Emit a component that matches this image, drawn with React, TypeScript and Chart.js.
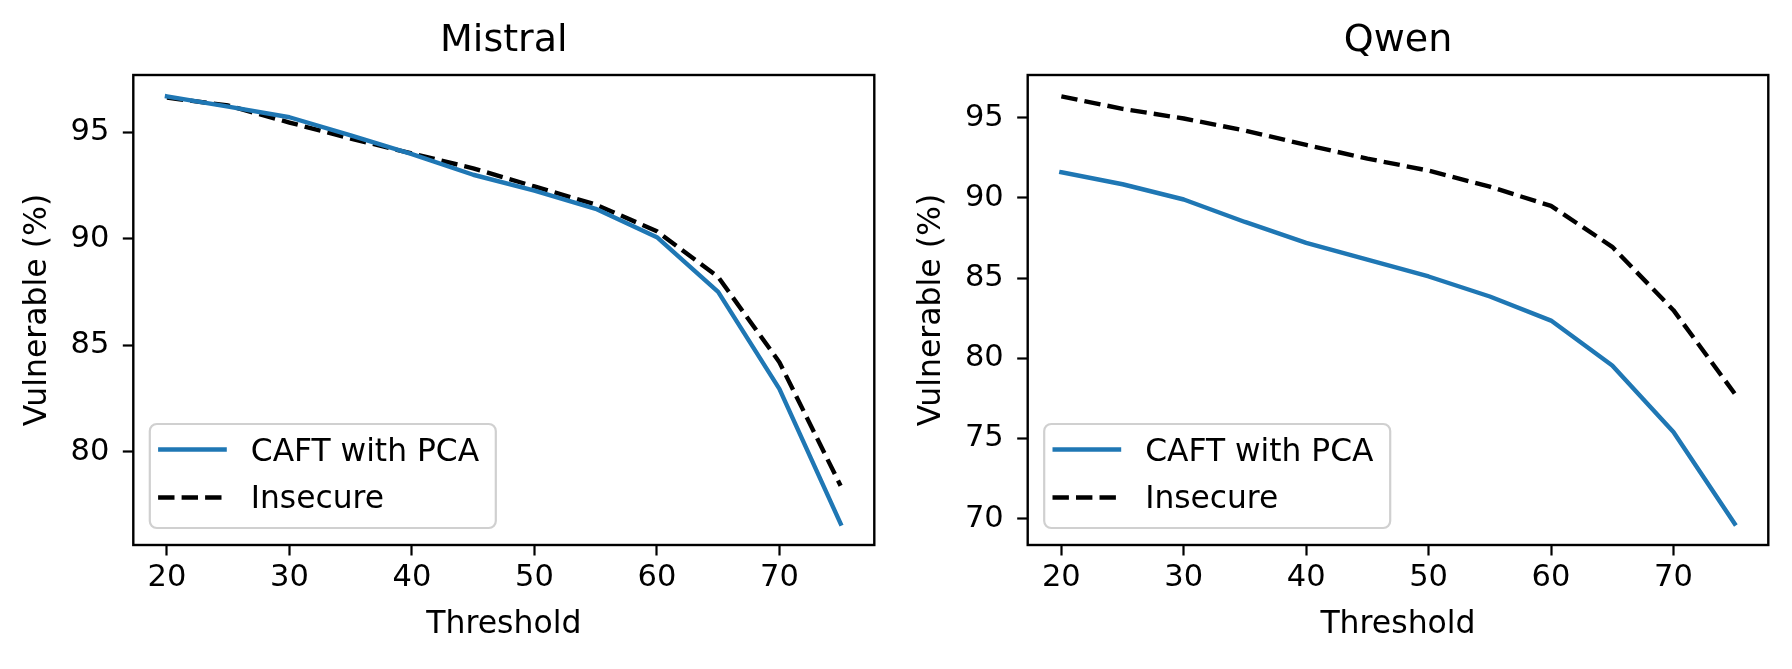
import React, { useEffect, useRef } from "react";
import { Chart, registerables } from "chart.js";

Chart.register(...registerables);

// ---------------- data ----------------
const THRESHOLDS = [20, 25, 30, 35, 40, 45, 50, 55, 60, 65, 70, 75];
const X_TICKS = [20, 30, 40, 50, 60, 70];

const MISTRAL_CAFT = [96.68, 96.2, 95.7, 94.85, 93.97, 93.0, 92.25, 91.4, 90.07, 87.5, 82.95, 76.62];
const MISTRAL_INSECURE = [96.62, 96.25, 95.45, 94.7, 94.0, 93.3, 92.45, 91.6, 90.35, 88.2, 84.2, 78.4];
const MISTRAL_Y_TICKS = [80, 85, 90, 95];

const QWEN_CAFT = [91.6, 90.85, 89.9, 88.5, 87.2, 86.15, 85.1, 83.85, 82.35, 79.55, 75.4, 69.69];
const QWEN_INSECURE = [96.33, 95.55, 94.95, 94.2, 93.3, 92.45, 91.7, 90.7, 89.5, 86.95, 83.0, 77.8];
const QWEN_Y_TICKS = [70, 75, 80, 85, 90, 95];

const SERIES_LABELS = ["CAFT with PCA", "Insecure"];
const PANEL_TITLES = ["Mistral", "Qwen"];
const X_LABEL = "Threshold";
const Y_LABEL = "Vulnerable (%)";

// ---------------- style ----------------
const FONT = "'DejaVu Sans', 'Liberation Sans', sans-serif";
const BLUE = "#1f77b4";
const CANVAS_W = 896;
const CANVAS_H = 669;
const AXIS_TOP = 75;
const AXIS_BOTTOM = 545;
const TICK_SIZE = 30.5;
const LABEL_SIZE = 31.5;
const LEGEND_SIZE = 31.3;

function margins(values: number[]) {
  const lo = Math.min(...values);
  const hi = Math.max(...values);
  const m = (hi - lo) * 0.05;
  return [lo - m, hi + m];
}

const framePlugin = {
  id: "frame",
  afterDatasetsDraw(chart: any) {
    const { ctx, chartArea: a } = chart;
    ctx.save();
    ctx.strokeStyle = "#000";
    ctx.lineWidth = 2.4;
    ctx.lineJoin = "miter";
    ctx.strokeRect(a.left, a.top, a.right - a.left, a.bottom - a.top);
    ctx.restore();
  },
};

const legendPlugin = {
  id: "boxLegend",
  afterDraw(chart: any) {
    const { ctx, chartArea: a } = chart;
    const w = 346;
    const h = 104;
    const x = a.left + 16.5;
    const y = a.bottom - 17 - h;
    ctx.save();
    ctx.beginPath();
    (ctx as any).roundRect(x, y, w, h, 7);
    ctx.fillStyle = "rgba(255,255,255,0.8)";
    ctx.fill();
    ctx.strokeStyle = "#d0d0d0";
    ctx.lineWidth = 2.2;
    ctx.stroke();
    const handleY = [25.5, 73.5];
    const baseY = [36.5, 84];
    chart.data.datasets.forEach((ds: any, i: number) => {
      ctx.beginPath();
      ctx.strokeStyle = ds.borderColor;
      ctx.lineWidth = ds.borderWidth;
      ctx.setLineDash(ds.borderDash || []);
      ctx.lineCap = "butt";
      ctx.moveTo(x + 8.3, y + handleY[i]);
      ctx.lineTo(x + (ds.borderDash ? 72.3 : 77), y + handleY[i]);
      ctx.stroke();
      ctx.setLineDash([]);
      ctx.fillStyle = "#000";
      ctx.font = `${LEGEND_SIZE}px ${FONT}`;
      ctx.textBaseline = "alphabetic";
      ctx.textAlign = "left";
      ctx.fillText(ds.label, x + 101, y + baseY[i]);
    });
    ctx.restore();
  },
};

type PanelProps = {
  title: string;
  caft: number[];
  insecure: number[];
  yTicks: number[];
  offsetLeft: number;
  axisLeft: number;
  axisRight: number;
};

function Panel({ title, caft, insecure, yTicks, offsetLeft, axisLeft, axisRight }: PanelProps) {
  const ref = useRef<HTMLCanvasElement | null>(null);

  useEffect(() => {
    if (!ref.current) return;
    const [xMin, xMax] = margins(THRESHOLDS);
    const [yMin, yMax] = margins([...caft, ...insecure]);
    const titleSize = 38;
    const titleLH = titleSize * 1.2;
    const titlePadTop = 18.4;
    const labelHalf = (LABEL_SIZE * 1.2) / 2;
    const tickHalf = (TICK_SIZE * 1.2) / 2;
    const chart = new Chart(ref.current, {
      type: "line",
      data: {
        datasets: [
          {
            label: SERIES_LABELS[0],
            data: THRESHOLDS.map((t, i) => ({ x: t, y: caft[i] })),
            borderColor: BLUE,
            backgroundColor: BLUE,
            borderWidth: 4.4,
            pointRadius: 0,
            tension: 0,
            borderJoinStyle: "round",
            borderCapStyle: "square",
            fill: false,
          },
          {
            label: SERIES_LABELS[1],
            data: THRESHOLDS.map((t, i) => ({ x: t, y: insecure[i] })),
            borderColor: "#000000",
            backgroundColor: "#000000",
            borderWidth: 4.4,
            borderDash: [16.4, 7.1],
            pointRadius: 0,
            tension: 0,
            borderJoinStyle: "round",
            borderCapStyle: "butt",
            fill: false,
          },
        ],
      },
      options: {
        animation: false,
        responsive: false,
        events: [],
        layout: { padding: { left: 0, right: CANVAS_W - axisRight, top: 0, bottom: 0 } },
        plugins: {
          legend: { display: false },
          tooltip: { enabled: false },
          title: {
            display: true,
            text: title,
            fullSize: false,
            color: "#000",
            font: { family: FONT, size: titleSize, weight: "normal", lineHeight: 1.2 },
            padding: { top: titlePadTop, bottom: AXIS_TOP - titlePadTop - titleLH },
          },
        },
        scales: {
          x: {
            type: "linear",
            min: xMin,
            max: xMax,
            afterBuildTicks: (s: any) => {
              s.ticks = X_TICKS.map((v) => ({ value: v }));
            },
            afterFit: (s: any) => {
              s.height = CANVAS_H - AXIS_BOTTOM;
            },
            grid: {
              display: true,
              drawOnChartArea: false,
              drawTicks: true,
              tickLength: 10.5,
              tickWidth: 2.2,
              tickColor: "#000",
            },
            border: { display: false },
            ticks: {
              color: "#000",
              font: { family: FONT, size: TICK_SIZE, lineHeight: 1.2 },
              padding: 578.3 - AXIS_BOTTOM - 10.5 - tickHalf,
              maxRotation: 0,
              autoSkip: false,
              callback: (v: any) => String(v),
            },
            title: {
              display: true,
              text: X_LABEL,
              color: "#000",
              font: { family: FONT, size: LABEL_SIZE, lineHeight: 1.2 },
              padding: { top: 0, bottom: CANVAS_H - labelHalf - 625.1 },
            },
          },
          y: {
            type: "linear",
            min: yMin,
            max: yMax,
            afterBuildTicks: (s: any) => {
              s.ticks = yTicks.map((v) => ({ value: v }));
            },
            afterFit: (s: any) => {
              s.width = axisLeft;
            },
            grid: {
              display: true,
              drawOnChartArea: false,
              drawTicks: true,
              tickLength: 10.5,
              tickWidth: 2.2,
              tickColor: "#000",
            },
            border: { display: false },
            ticks: {
              color: "#000",
              font: { family: FONT, size: TICK_SIZE, lineHeight: 1.2 },
              padding: 13.5,
              autoSkip: false,
              callback: (v: any) => String(v),
            },
            title: {
              display: true,
              text: Y_LABEL,
              color: "#000",
              font: { family: FONT, size: LABEL_SIZE, lineHeight: 1.2 },
              padding: { top: axisLeft - 95.8 - labelHalf, bottom: 0 },
            },
          },
        },
      } as any,
      plugins: [framePlugin, legendPlugin],
    });
    return () => chart.destroy();
  }, [title, caft, insecure, yTicks, axisLeft, axisRight]);

  return (
    <canvas
      ref={ref}
      width={CANVAS_W}
      height={CANVAS_H}
      style={{ position: "absolute", left: offsetLeft, top: 0, width: CANVAS_W, height: CANVAS_H, display: "block" }}
    />
  );
}

export default function App() {
  return (
    <div style={{ position: "absolute", left: 0, top: 0, width: 1792, height: 669, background: "#fff", overflow: "hidden" }}>
      <Panel
        title={PANEL_TITLES[0]}
        caft={MISTRAL_CAFT}
        insecure={MISTRAL_INSECURE}
        yTicks={MISTRAL_Y_TICKS}
        offsetLeft={0}
        axisLeft={133.3}
        axisRight={874.3}
      />
      <Panel
        title={PANEL_TITLES[1]}
        caft={QWEN_CAFT}
        insecure={QWEN_INSECURE}
        yTicks={QWEN_Y_TICKS}
        offsetLeft={896}
        axisLeft={131.7}
        axisRight={872.3}
      />
    </div>
  );
}
